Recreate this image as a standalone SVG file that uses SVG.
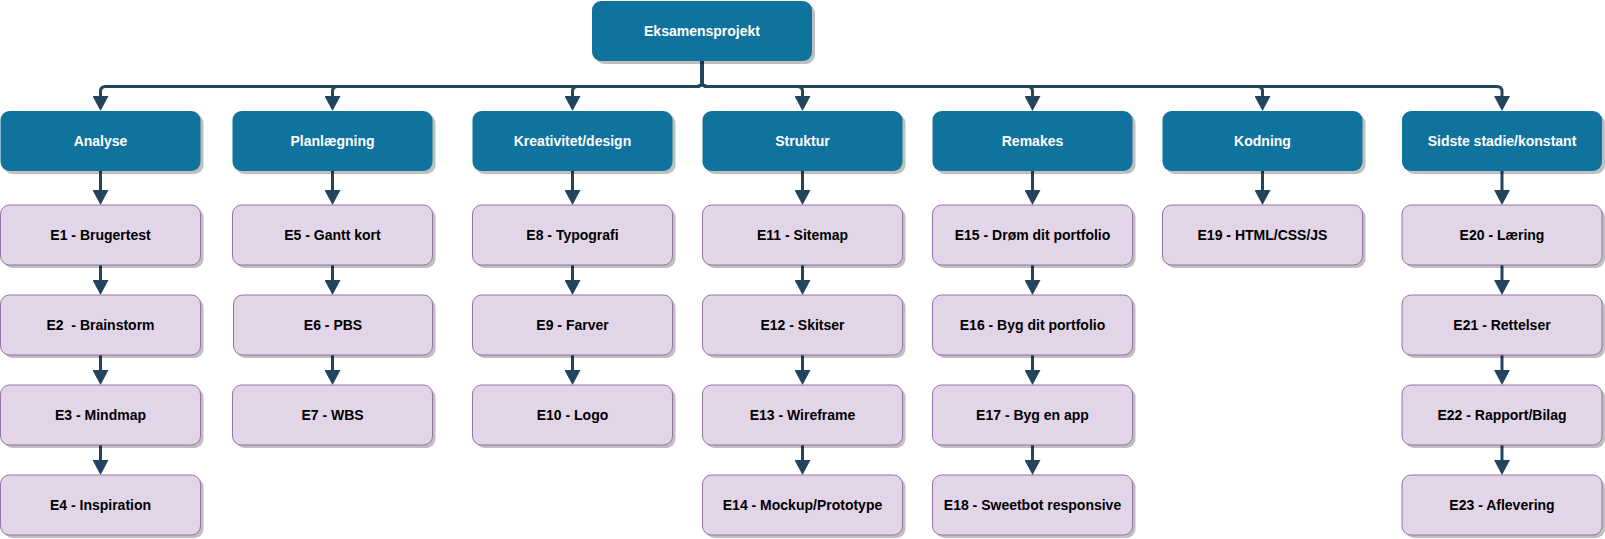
<svg xmlns="http://www.w3.org/2000/svg" width="1605" height="539" viewBox="0 0 1605 539">
<style>
.sh{fill:#000;fill-opacity:0.25}
.hd{fill:#10739E;stroke:none}
.it{fill:#E1D5E7;stroke:#9673A6;stroke-width:1}
.t{font-family:"Liberation Sans",Arial,sans-serif;font-size:14px;font-weight:bold;text-anchor:middle;white-space:pre}
.tw{fill:#FFFFFF}
.tb{fill:#000000}
.c{fill:none;stroke:#23445D;stroke-width:3}
</style>
<defs>
<marker id="ar" markerUnits="userSpaceOnUse" markerWidth="16" markerHeight="16" viewBox="0 0 15 16" refX="0" refY="8" orient="auto">
<path d="M0,0 L15,8 L0,16 z" fill="#23445D"/>
</marker>
</defs>
<g id="connectors">
<path class="c" marker-end="url(#ar)" d="M702,61 V81.5 Q702,86.5 697,86.5 H105.5 Q100.5,86.5 100.5,91.5 V96"/>
<path class="c" marker-end="url(#ar)" d="M702,61 V81.5 Q702,86.5 697,86.5 H337.5 Q332.5,86.5 332.5,91.5 V96"/>
<path class="c" marker-end="url(#ar)" d="M702,61 V81.5 Q702,86.5 697,86.5 H577.5 Q572.5,86.5 572.5,91.5 V96"/>
<path class="c" marker-end="url(#ar)" d="M702,61 V81.5 Q702,86.5 707,86.5 H797.5 Q802.5,86.5 802.5,91.5 V96"/>
<path class="c" marker-end="url(#ar)" d="M702,61 V81.5 Q702,86.5 707,86.5 H1027.5 Q1032.5,86.5 1032.5,91.5 V96"/>
<path class="c" marker-end="url(#ar)" d="M702,61 V81.5 Q702,86.5 707,86.5 H1257.5 Q1262.5,86.5 1262.5,91.5 V96"/>
<path class="c" marker-end="url(#ar)" d="M702,61 V81.5 Q702,86.5 707,86.5 H1497 Q1502,86.5 1502,91.5 V96"/>
<!-- column 1 -->
<path class="c" marker-end="url(#ar)" d="M100.5,171 V190"/>
<path class="c" marker-end="url(#ar)" d="M100.5,265 V280"/>
<path class="c" marker-end="url(#ar)" d="M100.5,355 V370"/>
<path class="c" marker-end="url(#ar)" d="M100.5,445 V460"/>
<!-- column 2 -->
<path class="c" marker-end="url(#ar)" d="M332.5,171 V190"/>
<path class="c" marker-end="url(#ar)" d="M332.5,265 V280"/>
<path class="c" marker-end="url(#ar)" d="M332.5,355 V370"/>
<!-- column 3 -->
<path class="c" marker-end="url(#ar)" d="M572.5,171 V190"/>
<path class="c" marker-end="url(#ar)" d="M572.5,265 V280"/>
<path class="c" marker-end="url(#ar)" d="M572.5,355 V370"/>
<!-- column 4 -->
<path class="c" marker-end="url(#ar)" d="M802.5,171 V190"/>
<path class="c" marker-end="url(#ar)" d="M802.5,265 V280"/>
<path class="c" marker-end="url(#ar)" d="M802.5,355 V370"/>
<path class="c" marker-end="url(#ar)" d="M802.5,445 V460"/>
<!-- column 5 -->
<path class="c" marker-end="url(#ar)" d="M1032.5,171 V190"/>
<path class="c" marker-end="url(#ar)" d="M1032.5,265 V280"/>
<path class="c" marker-end="url(#ar)" d="M1032.5,355 V370"/>
<path class="c" marker-end="url(#ar)" d="M1032.5,445 V460"/>
<!-- column 6 -->
<path class="c" marker-end="url(#ar)" d="M1262.5,171 V190"/>
<!-- column 7 -->
<path class="c" marker-end="url(#ar)" d="M1502,171 V190"/>
<path class="c" marker-end="url(#ar)" d="M1502,265 V280"/>
<path class="c" marker-end="url(#ar)" d="M1502,355 V370"/>
<path class="c" marker-end="url(#ar)" d="M1502,445 V460"/>
</g>

<g id="root"><rect class="sh" x="595" y="4" width="220" height="60" rx="9"/><rect class="hd" x="592" y="1" width="220" height="60" rx="9"/><text class="t tw" x="702" y="36">Eksamensprojekt</text></g>

<g id="analyse"><rect class="sh" x="3.5" y="114" width="200" height="60" rx="9"/><rect class="hd" x="0.5" y="111" width="200" height="60" rx="9"/><text class="t tw" x="100.5" y="146">Analyse</text></g>
<g id="e1"><rect class="sh" x="3.5" y="208" width="200" height="60" rx="9"/><rect class="it" x="0.5" y="205" width="200" height="60" rx="9"/><text class="t tb" x="100.5" y="240">E1 - Brugertest</text></g>
<g id="e2"><rect class="sh" x="3.5" y="298" width="200" height="60" rx="9"/><rect class="it" x="0.5" y="295" width="200" height="60" rx="9"/><text class="t tb" x="100.5" y="330" xml:space="preserve">E2  - Brainstorm</text></g>
<g id="e3"><rect class="sh" x="3.5" y="388" width="200" height="60" rx="9"/><rect class="it" x="0.5" y="385" width="200" height="60" rx="9"/><text class="t tb" x="100.5" y="420">E3 - Mindmap</text></g>
<g id="e4"><rect class="sh" x="3.5" y="478" width="200" height="60" rx="9"/><rect class="it" x="0.5" y="475" width="200" height="60" rx="9"/><text class="t tb" x="100.5" y="510">E4 - Inspiration</text></g>

<g id="planlaegning"><rect class="sh" x="235.5" y="114" width="200" height="60" rx="9"/><rect class="hd" x="232.5" y="111" width="200" height="60" rx="9"/><text class="t tw" x="332.5" y="146">Planlægning</text></g>
<g id="e5"><rect class="sh" x="235.5" y="208" width="200" height="60" rx="9"/><rect class="it" x="232.5" y="205" width="200" height="60" rx="9"/><text class="t tb" x="332.5" y="240">E5 - Gantt kort</text></g>
<g id="e6"><rect class="sh" x="236.5" y="298" width="199" height="60" rx="9"/><rect class="it" x="233.5" y="295" width="199" height="60" rx="9"/><text class="t tb" x="333" y="330">E6 - PBS</text></g>
<g id="e7"><rect class="sh" x="235.5" y="388" width="200" height="60" rx="9"/><rect class="it" x="232.5" y="385" width="200" height="60" rx="9"/><text class="t tb" x="332.5" y="420">E7 - WBS</text></g>

<g id="kreativitet"><rect class="sh" x="475.5" y="114" width="200" height="60" rx="9"/><rect class="hd" x="472.5" y="111" width="200" height="60" rx="9"/><text class="t tw" x="572.5" y="146">Kreativitet/design</text></g>
<g id="e8"><rect class="sh" x="475.5" y="208" width="200" height="60" rx="9"/><rect class="it" x="472.5" y="205" width="200" height="60" rx="9"/><text class="t tb" x="572.5" y="240">E8 - Typografi</text></g>
<g id="e9"><rect class="sh" x="475.5" y="298" width="200" height="60" rx="9"/><rect class="it" x="472.5" y="295" width="200" height="60" rx="9"/><text class="t tb" x="572.5" y="330">E9 - Farver</text></g>
<g id="e10"><rect class="sh" x="475.5" y="388" width="200" height="60" rx="9"/><rect class="it" x="472.5" y="385" width="200" height="60" rx="9"/><text class="t tb" x="572.5" y="420">E10 - Logo</text></g>

<g id="struktur"><rect class="sh" x="705.5" y="114" width="200" height="60" rx="9"/><rect class="hd" x="702.5" y="111" width="200" height="60" rx="9"/><text class="t tw" x="802.5" y="146">Struktur</text></g>
<g id="e11"><rect class="sh" x="705.5" y="208" width="200" height="60" rx="9"/><rect class="it" x="702.5" y="205" width="200" height="60" rx="9"/><text class="t tb" x="802.5" y="240">E11 - Sitemap</text></g>
<g id="e12"><rect class="sh" x="705.5" y="298" width="200" height="60" rx="9"/><rect class="it" x="702.5" y="295" width="200" height="60" rx="9"/><text class="t tb" x="802.5" y="330">E12 - Skitser</text></g>
<g id="e13"><rect class="sh" x="705.5" y="388" width="200" height="60" rx="9"/><rect class="it" x="702.5" y="385" width="200" height="60" rx="9"/><text class="t tb" x="802.5" y="420">E13 - Wireframe</text></g>
<g id="e14"><rect class="sh" x="705.5" y="478" width="200" height="60" rx="9"/><rect class="it" x="702.5" y="475" width="200" height="60" rx="9"/><text class="t tb" x="802.5" y="510">E14 - Mockup/Prototype</text></g>

<g id="remakes"><rect class="sh" x="935.5" y="114" width="200" height="60" rx="9"/><rect class="hd" x="932.5" y="111" width="200" height="60" rx="9"/><text class="t tw" x="1032.5" y="146">Remakes</text></g>
<g id="e15"><rect class="sh" x="935.5" y="208" width="200" height="60" rx="9"/><rect class="it" x="932.5" y="205" width="200" height="60" rx="9"/><text class="t tb" x="1032.5" y="240">E15 - Drøm dit portfolio</text></g>
<g id="e16"><rect class="sh" x="935.5" y="298" width="200" height="60" rx="9"/><rect class="it" x="932.5" y="295" width="200" height="60" rx="9"/><text class="t tb" x="1032.5" y="330">E16 - Byg dit portfolio</text></g>
<g id="e17"><rect class="sh" x="935.5" y="388" width="200" height="60" rx="9"/><rect class="it" x="932.5" y="385" width="200" height="60" rx="9"/><text class="t tb" x="1032.5" y="420">E17 - Byg en app</text></g>
<g id="e18"><rect class="sh" x="935.5" y="478" width="200" height="60" rx="9"/><rect class="it" x="932.5" y="475" width="200" height="60" rx="9"/><text class="t tb" x="1032.5" y="510">E18 - Sweetbot responsive</text></g>

<g id="kodning"><rect class="sh" x="1165.5" y="114" width="200" height="60" rx="9"/><rect class="hd" x="1162.5" y="111" width="200" height="60" rx="9"/><text class="t tw" x="1262.5" y="146">Kodning</text></g>
<g id="e19"><rect class="sh" x="1165.5" y="208" width="200" height="60" rx="9"/><rect class="it" x="1162.5" y="205" width="200" height="60" rx="9"/><text class="t tb" x="1262.5" y="240">E19 - HTML/CSS/JS</text></g>

<g id="sidste"><rect class="sh" x="1405" y="114" width="200" height="60" rx="9"/><rect class="hd" x="1402" y="111" width="200" height="60" rx="9"/><text class="t tw" x="1502" y="146">Sidste stadie/konstant</text></g>
<g id="e20"><rect class="sh" x="1405" y="208" width="200" height="60" rx="9"/><rect class="it" x="1402" y="205" width="200" height="60" rx="9"/><text class="t tb" x="1502" y="240">E20 - Læring</text></g>
<g id="e21"><rect class="sh" x="1405" y="298" width="200" height="60" rx="9"/><rect class="it" x="1402" y="295" width="200" height="60" rx="9"/><text class="t tb" x="1502" y="330">E21 - Rettelser</text></g>
<g id="e22"><rect class="sh" x="1405" y="388" width="200" height="60" rx="9"/><rect class="it" x="1402" y="385" width="200" height="60" rx="9"/><text class="t tb" x="1502" y="420">E22 - Rapport/Bilag</text></g>
<g id="e23"><rect class="sh" x="1405" y="478" width="200" height="60" rx="9"/><rect class="it" x="1402" y="475" width="200" height="60" rx="9"/><text class="t tb" x="1502" y="510">E23 - Aflevering</text></g>
</svg>
